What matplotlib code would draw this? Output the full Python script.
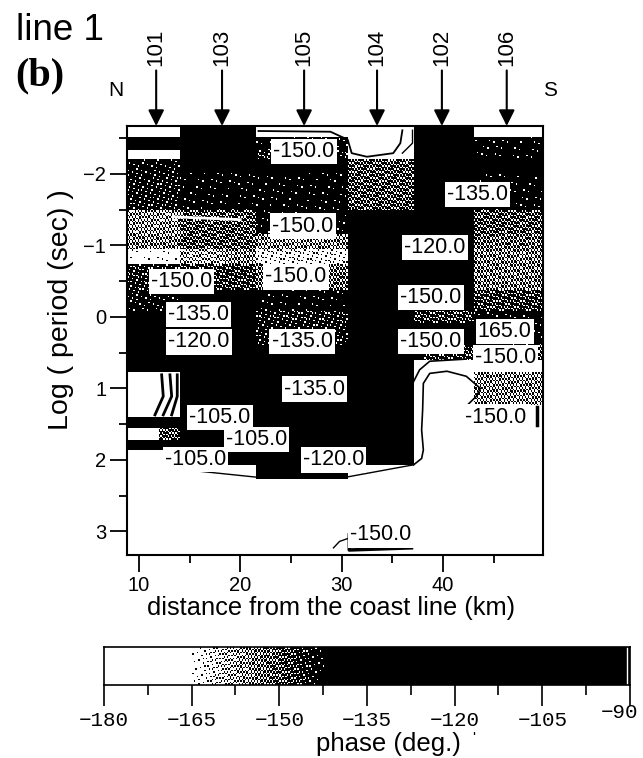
import numpy as np
import matplotlib
matplotlib.use('agg')
import matplotlib.pyplot as plt
import matplotlib.ticker as tkr

plt.rcParams['font.family'] = ['Liberation Sans', 'DejaVu Sans']

K = -120.0
W = -175.0
col_edges = [8.82, 12.0, 14.0, 18.2, 21.5, 30.6, 37.2, 38.0, 43.0, 49.88]
row_edges = [-2.67, -2.52, -2.34, -2.20, -2.03, -1.50, -1.15, -0.94, -0.73, -0.38, -0.10, 0.07,
             0.39, 0.60, 0.77, 1.23, 1.40, 1.55, 1.72, 1.86, 2.00, 2.07, 2.25, 3.33]
phase = [
    [W, W, K, K, W, W, K, K, W],
    [-141, -141, K, K, -143, W, K, K, -143],
    [-166, -166, K, K, -146, W, K, K, -143],
    [-144, -144, -141, -141, -142, -150, K, K, -142],
    [-145, -145, -143, -143, -143, -150, K, K, -143],
    [-156, -156, -150, -150, -143, K, K, K, -150],
    [-154, -154, -150, -150, -155, K, K, K, -152],
    [-165, -165, -158, -155, -162, K, K, K, -154],
    [-146, -146, -148, -148, -152, K, K, K, -154],
    [-144, -144, -141, -141, -143, K, K, K, -148],
    [K, K, K, K, -146, K, -148, -148, -143],
    [K, K, K, K, -145, K, K, K, -143],
    [K, K, K, K, K, K, -135, -148, -150],
    [K, K, K, K, -141, K, W, W, W],
    [W, W, K, K, K, K, W, W, -155],
    [W, W, K, K, K, K, W, W, W],
    [K, K, K, K, K, K, W, W, W],
    [W, -150, K, K, K, K, W, W, W],
    [K, K, K, K, K, K, W, W, W],
    [W, W, W, K, K, K, W, W, W],
    [W, W, W, K, K, K, W, W, W],
    [W, W, W, W, K, W, W, W, W],
    [W, W, W, W, W, W, W, W, W],
]

stations = ['101', '103', '105', '104', '102', '106']
station_km = [11.7, 18.2, 26.3, 33.5, 39.9, 46.3]

label_text = ['-150.0', '-150.0', '-150.0', '-150.0', '-135.0', '-120.0', '-135.0', '-135.0', '-105.0', '-105.0',
              '-105.0', '-120.0', '-135.0', '-120.0', '-150.0', '-150.0', '165.0', '-150.0', '-150.0', '-150.0']
label_km = [26.3, 26.2, 14.2, 25.5, 15.9, 15.9, 26.1, 27.3, 18.0, 21.6,
            15.6, 29.2, 43.4, 39.2, 38.8, 38.8, 46.1, 46.2, 45.2, 33.9]
label_log = [-2.31, -1.27, -0.50, -0.56, -0.03, 0.35, 0.34, 1.01, 1.41, 1.71,
             1.99, 2.00, -1.71, -0.97, -0.27, 0.34, 0.20, 0.57, 1.40, 3.05]

# contour lines
contour_a_km = [37.1, 37.9, 38.07, 37.9, 38.0, 38.07, 38.7, 40.4, 42.3, 43.7, 43.3, 42.3]
contour_a_log = [2.07, 1.98, 1.86, 1.58, 1.30, 0.93, 0.79, 0.76, 0.83, 1.0, 1.11, 1.25]
contour_b_km = [37.05, 37.7, 38.7, 42.3]
contour_b_log = [0.92, 0.74, 0.62, 0.59]
contour_c_km = [29.2, 29.8, 30.8]
contour_c_log = [3.23, 3.14, 3.09]
contour_d_km = [30.76, 30.76, 36.9]
contour_d_log = [3.05, 3.26, 3.23]
contour_e_km = [21.8, 28.9, 30.6, 31.0, 32.5, 35.1, 35.8, 36.0]
contour_e_log = [-2.60, -2.59, -2.48, -2.29, -2.24, -2.29, -2.43, -2.61]
contour_f_km = [36.0, 37.0, 37.0]
contour_f_log = [-2.29, -2.43, -2.61]
contour_g_km = [14.7, 21.5]
contour_g_log = [2.14, 2.24]
contour_h_km = [30.5, 37.05]
contour_h_log = [2.24, 2.07]
contour_i_km = [49.3, 49.3]
contour_i_log = [1.26, 1.51]
arc_1_km = [12.24, 12.4, 11.58]
arc_2_km = [13.06, 13.23, 12.4]
arc_3_km = [13.78, 13.78, 13.23]
arc_log = [0.81, 1.11, 1.37]
lens_km = [13.4, 20.0]
lens_log = [-1.40, -1.36]

cbar_ticks = [-180, -165, -150, -135, -120, -105, -90]
cbar_minor = [-172.5, -157.5, -142.5, -127.5, -112.5, -97.5]


def halftone(values):
    # grainy threshold so the greys read like the scanned stipple
    grey = np.clip((values + 166.0) / 24.0, 0, 1)
    ny, nx = values.shape
    ix, iy = np.meshgrid(np.arange(nx), np.arange(ny))
    thresh = (52.9829189 * ((0.06711056 * ix + 0.00583715 * iy) % 1.0)) % 1.0
    return (grey > thresh).astype(float)


fig = plt.figure(figsize=[6.43, 7.58], dpi=100)
ax = fig.add_axes([127 / 643, 1 - 555 / 758, 416 / 643, 429 / 758])
cax = fig.add_axes([104 / 643, 1 - 685 / 758, 526 / 643, 38 / 758])

# section
xf = np.linspace(col_edges[0], col_edges[-1], 278)
yf = np.linspace(row_edges[0], row_edges[-1], 287)
xc = 0.5 * (xf[:-1] + xf[1:])
yc = 0.5 * (yf[:-1] + yf[1:])
ci = np.clip(np.searchsorted(col_edges, xc) - 1, 0, len(col_edges) - 2)
ri = np.clip(np.searchsorted(row_edges, yc) - 1, 0, len(row_edges) - 2)
field = np.array(phase, dtype=float)[ri[:, None], ci[None, :]]
ax.pcolormesh(xf, yf, halftone(field), cmap='gray_r', vmin=0, vmax=1, rasterized=True)

ax.plot(contour_a_km, contour_a_log, color='k', lw=1.2)
ax.plot(contour_b_km, contour_b_log, color='k', lw=1.2)
ax.plot(contour_c_km, contour_c_log, color='k', lw=1.0)
ax.plot(contour_d_km, contour_d_log, color='k', lw=2.5)
ax.plot(contour_e_km, contour_e_log, color='k', lw=1.3)
ax.plot(contour_f_km, contour_f_log, color='k', lw=1.0)
ax.plot(contour_g_km, contour_g_log, color='k', lw=1.0)
ax.plot(contour_h_km, contour_h_log, color='k', lw=1.0)
ax.plot(contour_i_km, contour_i_log, color='k', lw=2.5)
ax.plot(arc_1_km, arc_log, color='k', lw=2.0)
ax.plot(arc_2_km, arc_log, color='k', lw=2.0)
ax.plot(arc_3_km, arc_log, color='k', lw=2.0)
ax.plot(lens_km, lens_log, color='w', lw=2.0)

for txt, x, y in zip(label_text, label_km, label_log):
    ax.text(x, y, txt, ha='center', va='center', fontsize=15.5, color='k',
            bbox=dict(facecolor='w', edgecolor='none', pad=1.5))

ax.set_xlim(col_edges[0], col_edges[-1])
ax.set_ylim(row_edges[-1], row_edges[0])
ax.xaxis.set_major_locator(tkr.MultipleLocator(10))
ax.xaxis.set_minor_locator(tkr.MultipleLocator(5))
ax.yaxis.set_major_locator(tkr.MultipleLocator(1))
ax.yaxis.set_minor_locator(tkr.MultipleLocator(0.5))
ax.tick_params(which='major', length=12, width=1.3, labelsize=14.5, pad=3)
ax.tick_params(which='minor', length=6, width=1.3)
for s in ax.spines.values():
    s.set_linewidth(1.5)
ax.set_xlabel('distance from the coast line (km)', fontsize=18.3, labelpad=1, x=0.49)
ax.set_ylabel('Log ( period (sec) )', fontsize=20.5, labelpad=7, y=0.571)

for name, km in zip(stations, station_km):
    ax.annotate('', xy=(km, 1.0), xycoords=('data', 'axes fraction'), xytext=(0, 40), textcoords='offset points',
                arrowprops=dict(arrowstyle='-|>', color='k', lw=1.5, mutation_scale=24, shrinkA=0, shrinkB=0),
                annotation_clip=False)
    ax.annotate(name, xy=(km, 1.0), xycoords=('data', 'axes fraction'), xytext=(0, 43), textcoords='offset points',
                rotation=90, ha='center', va='bottom', fontsize=16, annotation_clip=False)

fig.text(16 / 643, 1 - 30 / 758, 'line 1', fontsize=26.5, ha='left', va='center')
fig.text(15 / 643, 1 - 76 / 758, '(b)', fontsize=29, ha='left', va='center', family='Liberation Serif', weight='bold')
fig.text(116 / 643, 1 - 90 / 758, 'N', fontsize=15, ha='center', va='center')
fig.text(550 / 643, 1 - 90 / 758, 'S', fontsize=15, ha='center', va='center')

# colour bar
ramp = np.linspace(-180, -90, 351)
ramp_field = np.repeat(ramp[None, :], 25, axis=0)
cax.pcolormesh(np.linspace(-180, -90, 352), np.linspace(0, 1, 26), halftone(ramp_field), cmap='gray_r', vmin=0, vmax=1, rasterized=True)
cax.axvline(-90.5, color='w', lw=1)
cax.set_xlim(-180, -90)
cax.set_ylim(0, 1)
cax.set_yticks([])
cax.set_xticks(cbar_ticks)
cax.set_xticks(cbar_minor, minor=True)
# last label sits up and to the left of its tick, so it goes in by hand
cax.set_xticklabels(['\u2212' + str(abs(t)) for t in cbar_ticks[:-1]] + [''], family='Liberation Mono', fontsize=15)
cax.tick_params(which='major', length=15, width=1.2, pad=4)
cax.tick_params(which='minor', length=7, width=1.2)
for s in cax.spines.values():
    s.set_linewidth(1.2)
fig.text(620 / 643, 1 - 713 / 758, '\u221290', family='Liberation Mono', fontsize=15, ha='center', va='center')
fig.text(388 / 643, 1 - 744 / 758, 'phase (deg.)', fontsize=18.5, ha='center', va='center')
fig.text(474 / 643, 1 - 738 / 758, "'", fontsize=11, ha='center', va='center')

plt.savefig('out.png', dpi=100)
